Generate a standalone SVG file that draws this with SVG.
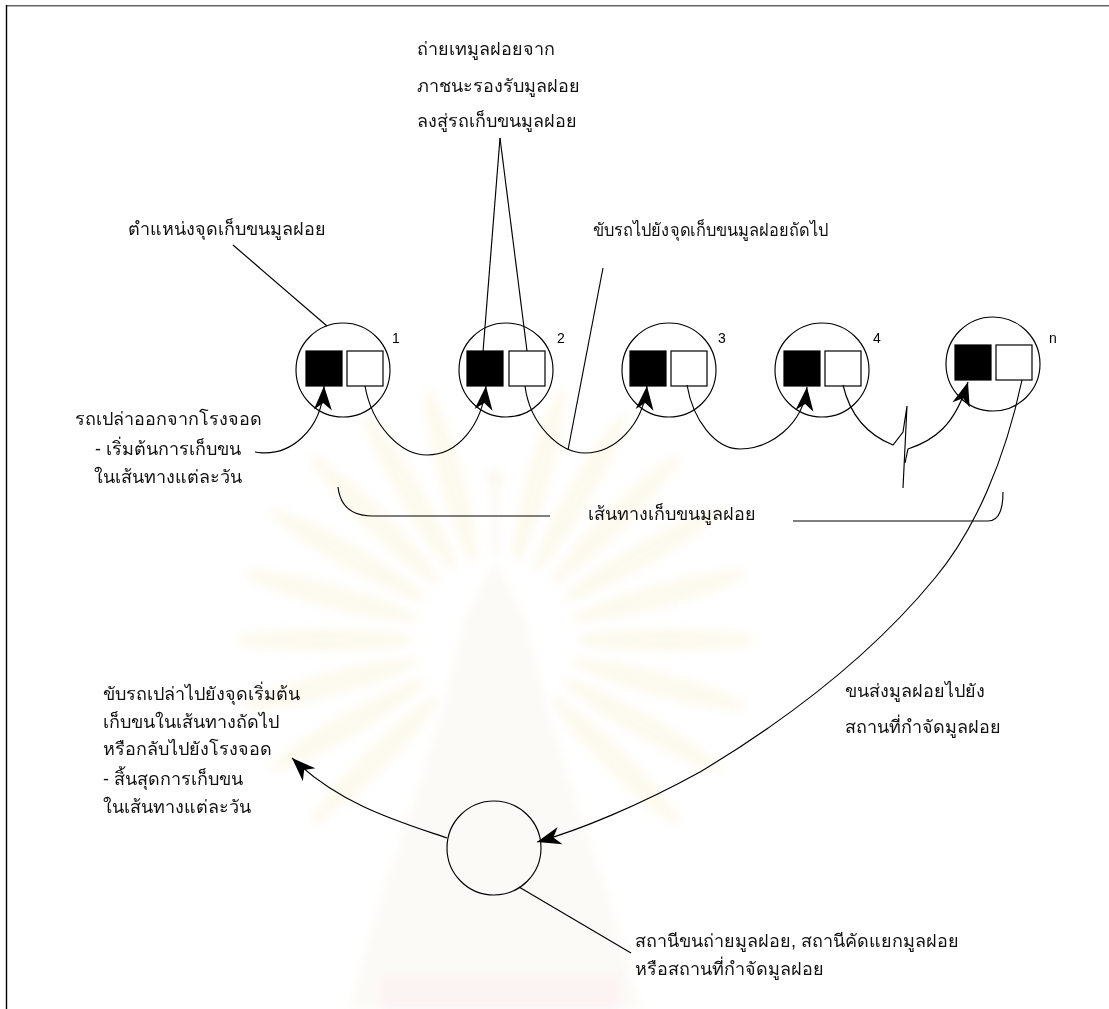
<svg xmlns="http://www.w3.org/2000/svg" width="1109" height="1009" viewBox="0 0 1109 1009">
  <style>
    .ln { fill: none; stroke: #000; stroke-width: 1.15; }
    .ring { fill: none; stroke: #000; stroke-width: 1.15; }
    .bin-full { fill: #000; stroke: #000; stroke-width: 1.2; }
    .bin-empty { fill: #fff; stroke: #000; stroke-width: 1.2; }
    .lbl { font-family: "Liberation Sans", "Noto Sans", sans-serif; font-size: 18px; fill: #111; }
    .num { font-family: "Liberation Sans", Arial, sans-serif; font-size: 14px; fill: #000; text-anchor: middle; }
    .ray { fill: #f2dc96; }
  </style>
  <defs>
    <marker id="barb" markerUnits="userSpaceOnUse" markerWidth="30" markerHeight="24" viewBox="-26 -12 30 24" refX="0" refY="0" orient="auto">
      <path d="M0,0 L-24,-9 L-17,0 L-24,9 Z" fill="#000"/>
    </marker>
    <filter id="soft" x="-10%" y="-10%" width="120%" height="120%">
      <feGaussianBlur stdDeviation="4"/>
    </filter>
  </defs>

  <rect x="0" y="0" width="1109" height="1009" fill="#fff"/>

  <!-- faint background seal -->
  <g id="watermark" opacity="0.16" filter="url(#soft)">
    <g class="rays">
      <ellipse class="ray" cx="665" cy="640" rx="90" ry="12" transform="rotate(-150 495 640)"/>
      <ellipse class="ray" cx="665" cy="640" rx="90" ry="12" transform="rotate(-135 495 640)"/>
      <ellipse class="ray" cx="665" cy="640" rx="90" ry="12" transform="rotate(-120 495 640)"/>
      <ellipse class="ray" cx="665" cy="640" rx="90" ry="12" transform="rotate(-105 495 640)"/>
      <ellipse class="ray" cx="665" cy="640" rx="90" ry="12" transform="rotate(-75 495 640)"/>
      <ellipse class="ray" cx="665" cy="640" rx="90" ry="12" transform="rotate(-60 495 640)"/>
      <ellipse class="ray" cx="665" cy="640" rx="90" ry="12" transform="rotate(-45 495 640)"/>
      <ellipse class="ray" cx="665" cy="640" rx="90" ry="12" transform="rotate(-30 495 640)"/>
      <ellipse class="ray" cx="665" cy="640" rx="90" ry="12" transform="rotate(-165 495 640)"/>
      <ellipse class="ray" cx="665" cy="640" rx="90" ry="12" transform="rotate(-15 495 640)"/>
      <ellipse class="ray" cx="665" cy="640" rx="90" ry="12" transform="rotate(180 495 640)"/>
      <ellipse class="ray" cx="665" cy="640" rx="90" ry="12" transform="rotate(0 495 640)"/>
      <ellipse class="ray" cx="665" cy="640" rx="90" ry="12" transform="rotate(165 495 640)"/>
      <ellipse class="ray" cx="665" cy="640" rx="90" ry="12" transform="rotate(15 495 640)"/>
      <ellipse class="ray" cx="665" cy="640" rx="90" ry="12" transform="rotate(150 495 640)"/>
      <ellipse class="ray" cx="665" cy="640" rx="90" ry="12" transform="rotate(30 495 640)"/>
      <ellipse class="ray" cx="665" cy="640" rx="90" ry="12" transform="rotate(135 495 640)"/>
      <ellipse class="ray" cx="665" cy="640" rx="90" ry="12" transform="rotate(45 495 640)"/>
    </g>
    <circle cx="495" cy="478" r="9" fill="#e6d6a8"/>
    <rect x="491" y="486" width="8" height="70" fill="#e9dcb4"/>
    <path d="M495,560 L525,620 L545,700 L575,800 L610,900 L640,1009 L350,1009 L380,900 L415,800 L445,700 L465,620 Z" fill="#e8dfc6"/>
    <rect x="380" y="975" width="240" height="34" fill="#eab5b0"/>
  </g>

  <!-- page frame -->
  <g id="frame">
    <line x1="6" y1="5.75" x2="1109" y2="5.75" stroke="#666" stroke-width="1.6"/>
    <line x1="6.5" y1="5" x2="6.5" y2="1009" stroke="#000" stroke-width="1.4"/>
  </g>

  <!-- collection points along the route -->
  <g id="point-1">
    <circle class="ring" cx="343" cy="370" r="47"/>
    <rect class="bin-full" x="306" y="351" width="36" height="35"/>
    <rect class="bin-empty" x="347" y="351" width="36" height="35"/>
    <text class="num" x="396" y="343">1</text>
  </g>
  <g id="point-2">
    <circle class="ring" cx="506" cy="370" r="47"/>
    <rect class="bin-full" x="467" y="351" width="36" height="35"/>
    <rect class="bin-empty" x="509" y="351" width="36" height="35"/>
    <text class="num" x="561" y="343">2</text>
  </g>
  <g id="point-3">
    <circle class="ring" cx="669" cy="370" r="47"/>
    <rect class="bin-full" x="630" y="351" width="36" height="35"/>
    <rect class="bin-empty" x="671" y="351" width="36" height="35"/>
    <text class="num" x="722" y="343">3</text>
  </g>
  <g id="point-4">
    <circle class="ring" cx="822" cy="370" r="47"/>
    <rect class="bin-full" x="784" y="351" width="36" height="35"/>
    <rect class="bin-empty" x="825" y="351" width="36" height="35"/>
    <text class="num" x="877" y="343">4</text>
  </g>
  <g id="point-n">
    <circle class="ring" cx="993" cy="364" r="47"/>
    <rect class="bin-full" x="955" y="345" width="36" height="35"/>
    <rect class="bin-empty" x="996" y="345" width="36" height="35"/>
    <text class="num" x="1053" y="343">n</text>
  </g>

  <!-- transfer / disposal site -->
  <g id="disposal-site">
    <circle class="ring" cx="494" cy="848" r="47"/>
  </g>

  <!-- route legs and leader lines -->
  <g id="connectors">
    <path class="ln" d="M255,452 C290,458 322,430 324,386" marker-end="url(#barb)"/>
    <path class="ln" d="M365,386 C372,425 400,455 427,455 C458,455 482,425 486,386" marker-end="url(#barb)"/>
    <path class="ln" d="M525,386 C530,425 560,453 585,453 C615,453 643,425 647,386" marker-end="url(#barb)"/>
    <path class="ln" d="M687,385 C693,420 715,449 740,449 C770,449 803,425 807,387" marker-end="url(#barb)"/>
    <path class="ln" d="M843,385 C850,415 868,435 893,445 L903,432 L907,406 L903,488"/>
    <path class="ln" d="M905,463 L908,449 C935,440 955,425 968,382" marker-end="url(#barb)"/>
    <path class="ln" d="M1022,380 C1005,460 975,530 935,578 C880,645 800,712 700,772 C640,805 580,830 537,842" marker-end="url(#barb)"/>
    <path class="ln" d="M447,838 C400,822 340,805 292,758" marker-end="url(#barb)"/>

    <line class="ln" x1="233" y1="245" x2="327" y2="326"/>
    <line class="ln" x1="500" y1="138" x2="483" y2="352"/>
    <line class="ln" x1="500" y1="138" x2="527" y2="351"/>
    <line class="ln" x1="603" y1="268" x2="568" y2="450"/>
    <line class="ln" x1="519" y1="887" x2="631" y2="953"/>

    <path class="ln" d="M338,487 C340,505 350,516 373,516 L550,516"/>
    <path class="ln" d="M793,521 L988,521 C998,521 1003,512 1003,492"/>
  </g>

  <!-- captions -->
  <g id="captions">
    <text class="lbl" x="128" y="235">ตำแหน่งจุดเก็บขนมูลฝอย</text>

    <text class="lbl" x="417" y="55">ถ่ายเทมูลฝอยจาก</text>
    <text class="lbl" x="417" y="92">ภาชนะรองรับมูลฝอย</text>
    <text class="lbl" x="417" y="127">ลงสู่รถเก็บขนมูลฝอย</text>

    <text class="lbl" x="593" y="236" textLength="235" lengthAdjust="spacingAndGlyphs">ขับรถไปยังจุดเก็บขนมูลฝอยถัดไป</text>

    <text class="lbl" x="168" y="425" text-anchor="middle">รถเปล่าออกจากโรงจอด</text>
    <text class="lbl" x="168" y="455" text-anchor="middle">- เริ่มต้นการเก็บขน</text>
    <text class="lbl" x="168" y="483" text-anchor="middle">ในเส้นทางแต่ละวัน</text>

    <text class="lbl" x="588" y="520">เส้นทางเก็บขนมูลฝอย</text>

    <text class="lbl" x="103" y="700">ขับรถเปล่าไปยังจุดเริ่มต้น</text>
    <text class="lbl" x="103" y="728">เก็บขนในเส้นทางถัดไป</text>
    <text class="lbl" x="103" y="755">หรือกลับไปยังโรงจอด</text>
    <text class="lbl" x="103" y="785">- สิ้นสุดการเก็บขน</text>
    <text class="lbl" x="103" y="813">ในเส้นทางแต่ละวัน</text>

    <text class="lbl" x="845" y="697">ขนส่งมูลฝอยไปยัง</text>
    <text class="lbl" x="845" y="733">สถานที่กำจัดมูลฝอย</text>

    <text class="lbl" x="635" y="947">สถานีขนถ่ายมูลฝอย, สถานีคัดแยกมูลฝอย</text>
    <text class="lbl" x="635" y="975">หรือสถานที่กำจัดมูลฝอย</text>
  </g>
</svg>
